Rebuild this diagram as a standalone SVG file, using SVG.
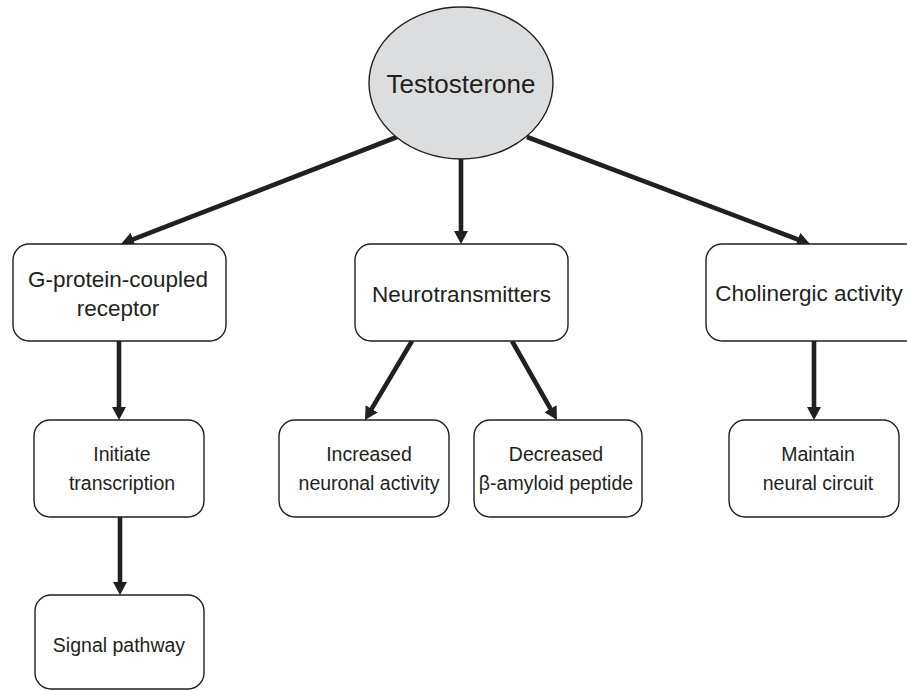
<svg xmlns="http://www.w3.org/2000/svg" width="907" height="691" viewBox="0 0 907 691">
<defs>
<style>
.box{fill:#ffffff;stroke:#231f20;stroke-width:1.4}
.ell{fill:#dcdddf;stroke:#231f20;stroke-width:1.4}
.t1{font-family:"Liberation Sans",Arial,sans-serif;font-size:22.5px;fill:#231f20;text-anchor:middle}
.t2{font-family:"Liberation Sans",Arial,sans-serif;font-size:19.5px;fill:#231f20;text-anchor:middle}
.t0{font-family:"Liberation Sans",Arial,sans-serif;font-size:26px;fill:#231f20;text-anchor:middle}
.conn{stroke:#231f20;stroke-width:4.6;fill:none;marker-end:url(#ah)}
</style>
<marker id="ah" viewBox="0 0 13 14" refX="3" refY="7" markerWidth="13" markerHeight="14" markerUnits="userSpaceOnUse" orient="auto">
<path d="M0,0 L13,7 L0,14 z" fill="#231f20"/>
</marker>
</defs>
<rect width="907" height="691" fill="#ffffff"/>
<g id="connectors">
<line class="conn" x1="397" y1="137" x2="130.3" y2="240.4"/>
<line class="conn" x1="461" y1="159" x2="461" y2="234"/>
<line class="conn" x1="527" y1="137" x2="800.6" y2="240.5"/>
<line class="conn" x1="119" y1="341" x2="119" y2="410"/>
<line class="conn" x1="120" y1="517" x2="120" y2="585"/>
<line class="conn" x1="412" y1="341" x2="370.1" y2="411.4"/>
<line class="conn" x1="512" y1="341" x2="552" y2="411.3"/>
<line class="conn" x1="814" y1="341" x2="814" y2="410"/>
</g>
<g id="testosterone">
<ellipse class="ell" cx="461" cy="83" rx="92" ry="76"/>
<text class="t0" x="461" y="93">Testosterone</text>
</g>
<g id="gpcr">
<rect class="box" x="13" y="244" width="213" height="97" rx="16"/>
<text class="t1" x="118" y="287">G-protein-coupled</text>
<text class="t1" x="118" y="316">receptor</text>
</g>
<g id="neurotransmitters">
<rect class="box" x="355" y="244" width="213" height="97" rx="16"/>
<text class="t1" x="461.5" y="302">Neurotransmitters</text>
</g>
<g id="cholinergic">
<rect class="box" x="706" y="244" width="215" height="97" rx="16"/>
<text class="t1" x="809" y="301">Cholinergic activity</text>
</g>
<g id="initiate">
<rect class="box" x="34" y="420" width="170" height="97" rx="16"/>
<text class="t2" x="122" y="461">Initiate</text>
<text class="t2" x="122" y="490">transcription</text>
</g>
<g id="signal">
<rect class="box" x="35" y="595" width="169" height="94" rx="16"/>
<text class="t2" x="119" y="652">Signal pathway</text>
</g>
<g id="increased">
<rect class="box" x="279" y="420" width="170" height="97" rx="16"/>
<text class="t2" x="369" y="461">Increased</text>
<text class="t2" x="369" y="490">neuronal activity</text>
</g>
<g id="decreased">
<rect class="box" x="474" y="420" width="168" height="97" rx="16"/>
<text class="t2" x="556" y="461">Decreased</text>
<text class="t2" x="556" y="490">β-amyloid peptide</text>
</g>
<g id="maintain">
<rect class="box" x="729" y="420" width="170" height="97" rx="16"/>
<text class="t2" x="818" y="461">Maintain</text>
<text class="t2" x="818" y="490">neural circuit</text>
</g>
</svg>
